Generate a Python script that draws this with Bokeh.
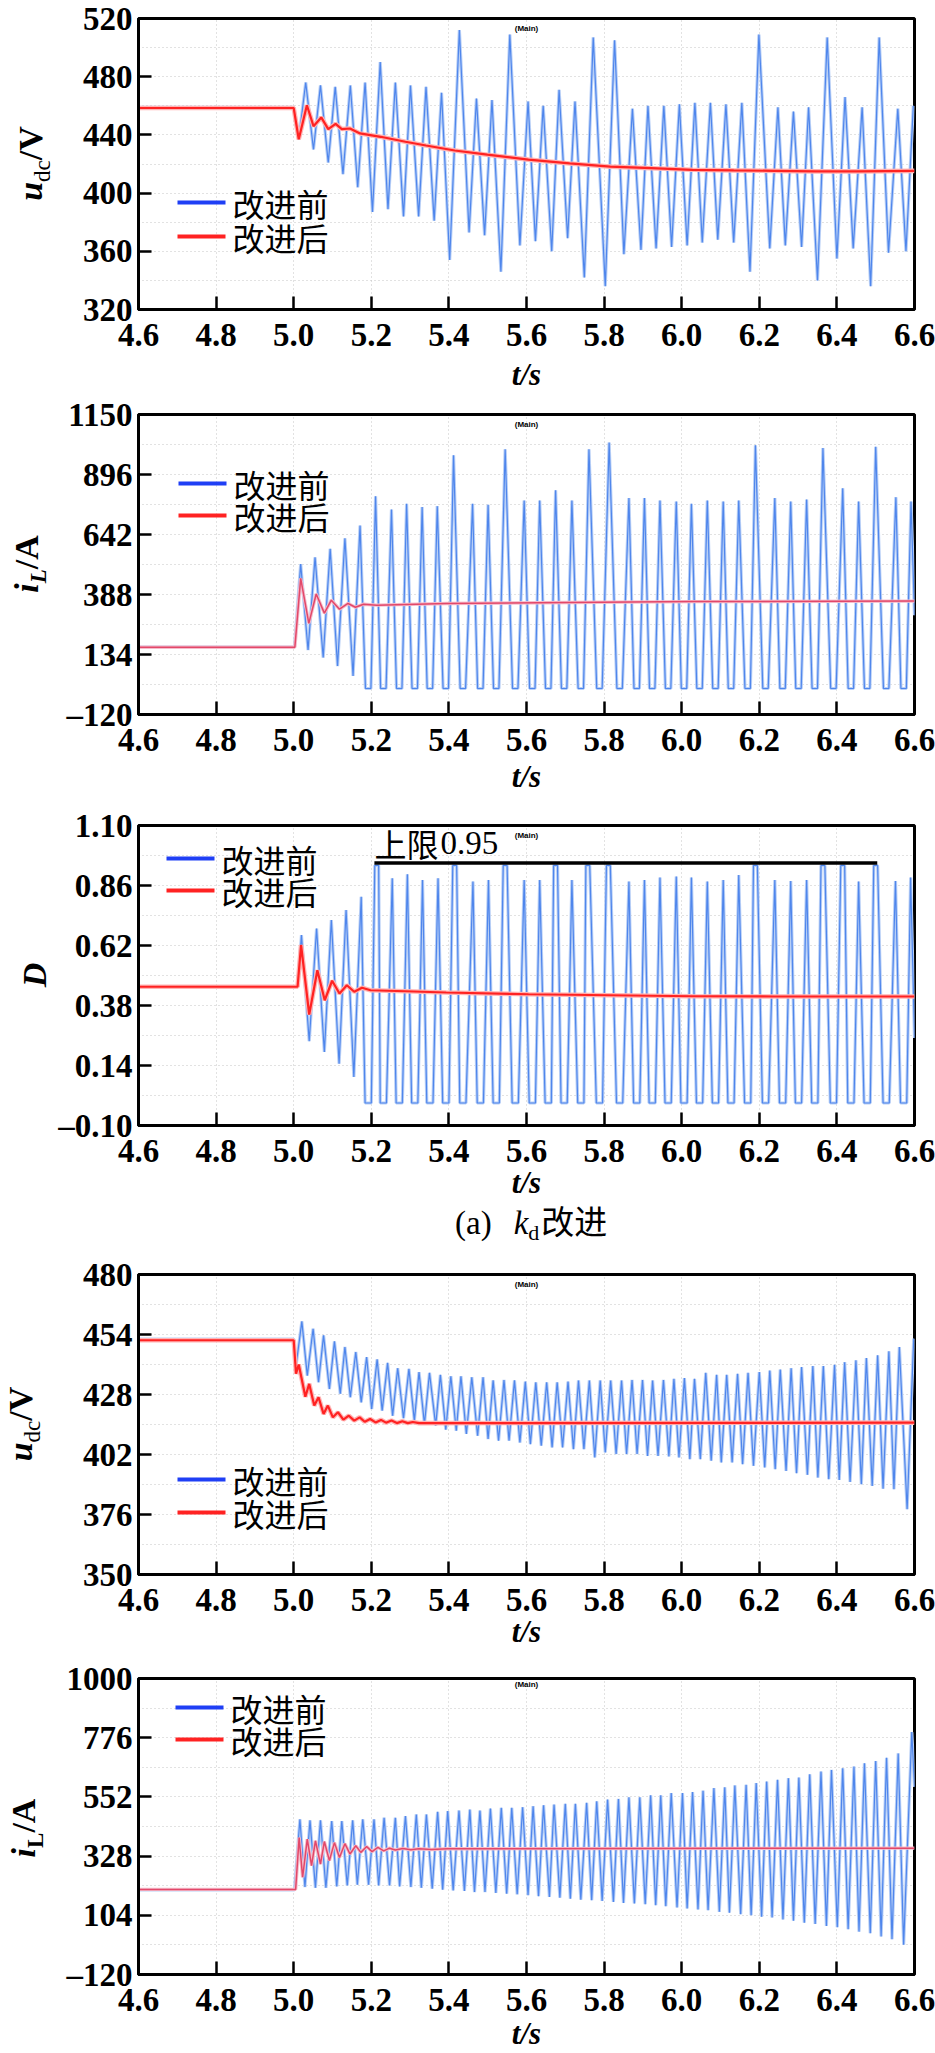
import math
from bokeh.plotting import figure
from bokeh.models import Range1d, FixedTicker, Label, BoxAnnotation, CustomJSTickFormatter, Div
from bokeh.layouts import column, row
from bokeh.embed import file_html
from bokeh.resources import INLINE

# ------------------------------------------------------------------ shared
x_ticks = [4.6, 4.8, 5.0, 5.2, 5.4, 5.6, 5.8, 6.0, 6.2, 6.4, 6.6]
x_tick_labels = ["4.6", "4.8", "5.0", "5.2", "5.4", "5.6", "5.8", "6.0", "6.2", "6.4", "6.6"]
t_begin, t_end = 4.6, 6.6
legend_labels = ["改进前", "改进后"]
x_title_text = "t/s"

# ------------------------------------------------------------------ panel 1 : u_dc (kd)
udc1_ticks = [320, 360, 400, 440, 480, 520]
udc1_tick_labels = ["320", "360", "400", "440", "480", "520"]
udc1_before_pre = 459.0
udc1_before_peak_t = [5.031, 5.069, 5.107, 5.146, 5.184, 5.223, 5.262, 5.301, 5.341, 5.381,
                      5.427, 5.471, 5.511, 5.557, 5.604, 5.643, 5.684, 5.725, 5.772, 5.827,
                      5.873, 5.913, 5.954, 5.994, 6.034, 6.074, 6.114, 6.155, 6.199, 6.248,
                      6.288, 6.327, 6.375, 6.421, 6.465, 6.509, 6.557, 6.597]
udc1_before_peak_v = [476, 474, 473, 474, 476, 490, 476, 474, 473, 469,
                      512, 465, 464, 509, 463, 460, 471, 463, 507, 505,
                      458, 460, 460, 461, 462, 462, 461, 462, 509, 459,
                      456, 459, 507, 466, 459, 507, 458, 460]
udc1_before_trough_t = [5.013, 5.051, 5.089, 5.127, 5.165, 5.203, 5.243, 5.283, 5.322, 5.362,
                        5.402, 5.452, 5.492, 5.534, 5.583, 5.623, 5.665, 5.706, 5.749, 5.803,
                        5.851, 5.895, 5.934, 5.974, 6.014, 6.053, 6.093, 6.134, 6.176, 6.227,
                        6.267, 6.309, 6.350, 6.400, 6.442, 6.487, 6.533, 6.578]
udc1_before_trough_v = [437, 430, 421, 413, 404, 387, 389, 384, 384, 381,
                        354, 373, 371, 346, 364, 367, 360, 369, 342, 336,
                        358, 361, 362, 363, 364, 366, 368, 366, 346, 362,
                        364, 363, 340, 355, 362, 336, 359, 360]
udc1_after_t = [4.6, 5.0, 5.013, 5.034, 5.051, 5.071, 5.089, 5.108, 5.124, 5.145, 5.171,
                5.224, 5.288, 5.341, 5.415, 5.499, 5.605, 5.711, 5.816, 5.922, 6.028,
                6.134, 6.239, 6.345, 6.451, 6.6]
udc1_after_v = [458.5, 458.5, 437, 460.4, 446, 452, 444, 447.6, 444, 444.4, 441,
                438.7, 435.3, 432.7, 429.3, 426.4, 423, 420.4, 418.2, 417.1, 416,
                415.6, 415.3, 414.9, 414.9, 415.3]

# ------------------------------------------------------------------ panel 2 : i_L (kd)
il1_ticks = [-120, 134, 388, 642, 896, 1150]
il1_tick_labels = ["\u2013120", "134", "388", "642", "896", "1150"]
il1_before_pre = 165
il1_before_peak_t = [5.018, 5.055, 5.094, 5.132, 5.171, 5.211, 5.252, 5.291, 5.331, 5.370,
                     5.412, 5.461, 5.501, 5.545, 5.594, 5.634, 5.675, 5.717, 5.761, 5.813,
                     5.864, 5.904, 5.944, 5.986, 6.025, 6.066, 6.107, 6.147, 6.190, 6.240,
                     6.281, 6.322, 6.364, 6.415, 6.456, 6.500, 6.552, 6.591]
il1_before_peak_v = [517, 545, 581, 626, 680, 804, 748, 772, 758, 762,
                     977, 772, 768, 1003, 786, 786, 829, 786, 1003, 1031,
                     796, 796, 786, 782, 772, 786, 782, 786, 1020, 796,
                     782, 790, 1008, 838, 782, 1013, 800, 782]
il1_before_trough_t = [5.037, 5.076, 5.113, 5.153]
il1_before_trough_v = [153, 121, 85, 43]
kd_floor_t = [5.192, 5.231, 5.272, 5.312, 5.351, 5.392, 5.436, 5.481, 5.522, 5.571,
              5.615, 5.656, 5.697, 5.740, 5.788, 5.840, 5.884, 5.924, 5.965, 6.006,
              6.046, 6.087, 6.127, 6.170, 6.216, 6.260, 6.301, 6.343, 6.391, 6.436,
              6.478, 6.527, 6.572]
il1_floor_v = -10
il1_floor_dwell = 0.014
il1_before_end = (6.6, 300)
il1_after_t = [4.6, 5.003, 5.018, 5.039, 5.058, 5.079, 5.097, 5.118, 5.140, 5.159, 5.180,
               5.214, 5.393, 5.711, 6.028, 6.6]
il1_after_v = [165, 165, 456, 266, 390, 309, 364, 326, 350, 334, 347,
               343, 350, 354, 358, 360]

# ------------------------------------------------------------------ panel 3 : D (kd)
d_ticks = [-0.10, 0.14, 0.38, 0.62, 0.86, 1.10]
d_tick_labels = ["\u20130.10", "0.14", "0.38", "0.62", "0.86", "1.10"]
d_before_pre = 0.455
d_before_peak_t = [5.020, 5.059, 5.097, 5.135, 5.174, 5.214, 5.254, 5.293, 5.332, 5.372,
                   5.415, 5.462, 5.502, 5.545, 5.594, 5.634, 5.675, 5.717, 5.758, 5.811,
                   5.864, 5.904, 5.944, 5.986, 6.025, 6.066, 6.107, 6.147, 6.190, 6.240,
                   6.281, 6.322, 6.364, 6.415, 6.456, 6.500, 6.551, 6.590]
d_before_peak_v = [0.662, 0.688, 0.722, 0.762, 0.815, 0.94, 0.889, 0.905, 0.882, 0.889,
                   0.94, 0.876, 0.882, 0.94, 0.882, 0.882, 0.94, 0.882, 0.94, 0.94,
                   0.876, 0.882, 0.892, 0.896, 0.892, 0.876, 0.882, 0.902, 0.94, 0.882,
                   0.878, 0.882, 0.94, 0.94, 0.876, 0.94, 0.878, 0.892]
d_before_trough_t = [5.040, 5.079, 5.117, 5.155]
d_before_trough_v = [0.237, 0.194, 0.147, 0.094]
d_floor_v = -0.01
d_floor_dwell = 0.016
d_cap_v = 0.94
d_cap_dwell = 0.010
d_before_end = (6.6, 0.25)
d_after_t = [4.6, 5.010, 5.019, 5.040, 5.061, 5.080, 5.099, 5.118, 5.137, 5.156, 5.176,
             5.198, 5.288, 5.393, 5.605, 5.816, 6.028, 6.239, 6.6]
d_after_v = [0.455, 0.455, 0.622, 0.344, 0.521, 0.401, 0.479, 0.428, 0.461, 0.435, 0.451,
             0.441, 0.437, 0.432, 0.425, 0.421, 0.417, 0.416, 0.416]
d_limit_value = 0.95
d_limit_span = [5.208, 6.504]
d_limit_text = ("上限", "0.95")
d_limit_text_y = 1.032

# ------------------------------------------------------------------ panel 4 : u_dc (second case)
udc2_ticks = [350, 376, 402, 428, 454, 480]
udc2_tick_labels = ["350", "376", "402", "428", "454", "480"]
udc2_before_pre = 452.0
udc2_before_peak_t = [5.021, 5.050, 5.077, 5.105, 5.132, 5.160, 5.188, 5.215, 5.242, 5.268,
                      5.297, 5.323, 5.350, 5.378, 5.405, 5.431, 5.459, 5.488, 5.514, 5.542,
                      5.569, 5.597, 5.624, 5.652, 5.679, 5.707, 5.734, 5.762, 5.790, 5.817,
                      5.845, 5.872, 5.899, 5.925, 5.953, 5.980, 6.007, 6.033, 6.062, 6.090,
                      6.116, 6.144, 6.171, 6.200, 6.227, 6.254, 6.282, 6.309, 6.338, 6.365,
                      6.394, 6.420, 6.449, 6.476, 6.505, 6.534, 6.561, 6.598]
udc2_before_peak_v = [459.7, 456.5, 453.6, 451.0, 448.6, 446.4, 444.2, 443.2, 441.7, 439.4,
                      439.1, 437.7, 437.4, 436.5, 435.9, 435.9, 435.5, 435.5, 434.1, 434.3,
                      434.1, 433.6, 433.3, 433.3, 433.3, 433.6, 434.1, 434.1, 434.1, 434.1,
                      434.1, 434.3, 434.3, 434.1, 434.3, 434.8, 435.1, 434.8, 437.4, 436.5,
                      436.5, 437.0, 437.4, 437.7, 438.4, 438.8, 439.4, 439.9, 440.3, 440.3,
                      440.9, 442.0, 442.8, 443.8, 445.0, 446.7, 448.6, 452.2]
udc2_before_trough_t = [5.005, 5.035, 5.064, 5.092, 5.120, 5.146, 5.174, 5.201, 5.228, 5.255,
                        5.283, 5.311, 5.337, 5.366, 5.392, 5.419, 5.445, 5.474, 5.501, 5.528,
                        5.555, 5.583, 5.610, 5.638, 5.666, 5.693, 5.721, 5.748, 5.776, 5.803,
                        5.831, 5.858, 5.885, 5.912, 5.939, 5.967, 5.993, 6.021, 6.048, 6.076,
                        6.102, 6.130, 6.157, 6.185, 6.214, 6.241, 6.269, 6.296, 6.324, 6.351,
                        6.379, 6.406, 6.434, 6.463, 6.491, 6.519, 6.547, 6.581]
udc2_before_trough_v = [439.1, 436.2, 433.3, 430.4, 428.3, 426.8, 424.6, 421.7, 421.0, 418.8,
                        417.7, 416.7, 415.2, 414.5, 412.8, 412.3, 410.9, 410.1, 408.7, 408.0,
                        408.0, 407.2, 406.5, 405.8, 405.1, 405.1, 404.3, 404.3, 400.7, 402.9,
                        402.2, 402.2, 402.2, 401.4, 401.4, 401.2, 400.7, 400.0, 400.0, 399.3,
                        398.6, 398.6, 397.8, 397.1, 396.4, 395.6, 394.9, 393.9, 393.2, 392.0,
                        391.3, 391.0, 390.1, 389.1, 388.4, 387.2, 387.0, 378.3]
udc2_after_t = [4.6, 5.0, 5.006, 5.013, 5.030, 5.040, 5.053, 5.064, 5.077, 5.088,
                5.101, 5.114, 5.128, 5.142, 5.156, 5.170, 5.183, 5.197, 5.211, 5.225,
                5.238, 5.252, 5.266, 5.280, 5.294, 5.307, 5.323, 6.6]
udc2_after_v = [451.5, 451.5, 437, 441, 427, 432.6, 423.2, 426.8, 419.6, 423.2,
                418.1, 420.3, 417.1, 418.8, 416.7, 418.1, 416.2, 417.4, 415.9, 417.0,
                415.8, 416.7, 415.6, 416.4, 415.6, 416.1, 415.6, 415.8]

# ------------------------------------------------------------------ panel 5 : i_L (second case)
il2_ticks = [-120, 104, 328, 552, 776, 1000]
il2_tick_labels = ["\u2013120", "104", "328", "552", "776", "1000"]
il2_before_pre = 200
il2_before_peak_t = [5.016, 5.042, 5.069, 5.098, 5.124, 5.152, 5.178, 5.207, 5.233, 5.262,
                     5.288, 5.316, 5.342, 5.371, 5.397, 5.426, 5.454, 5.480, 5.507, 5.535,
                     5.562, 5.590, 5.617, 5.644, 5.671, 5.700, 5.726, 5.755, 5.781, 5.809,
                     5.837, 5.864, 5.892, 5.920, 5.946, 5.973, 6.002, 6.028, 6.055, 6.083,
                     6.111, 6.137, 6.166, 6.192, 6.219, 6.247, 6.275, 6.302, 6.330, 6.359,
                     6.386, 6.415, 6.444, 6.471, 6.500, 6.528, 6.558, 6.593]
il2_before_peak_v = [467.2, 463.1, 463.1, 460.6, 460.6, 463.1, 467.2, 467.2, 473.1, 473.1,
                     479.3, 485.6, 485.6, 495.6, 498.1, 500.6, 504.3, 500.6, 508.1, 510.5,
                     510.5, 513.0, 516.8, 520.5, 523.0, 525.5, 525.5, 529.3, 535.5, 541.8,
                     544.3, 550.5, 550.5, 558.0, 558.0, 566.7, 566.7, 570.5, 575.5, 585.5,
                     588.0, 595.5, 598.0, 604.2, 610.4, 616.7, 622.9, 625.4, 637.9, 647.9,
                     654.1, 660.4, 666.6, 679.1, 687.8, 700.3, 716.6, 797.7]
il2_before_trough_t = [5.029, 5.056, 5.083, 5.111, 5.138, 5.164, 5.193, 5.219, 5.247, 5.273,
                       5.302, 5.329, 5.357, 5.384, 5.411, 5.440, 5.466, 5.493, 5.521, 5.549,
                       5.576, 5.604, 5.631, 5.659, 5.686, 5.713, 5.740, 5.768, 5.795, 5.824,
                       5.850, 5.878, 5.906, 5.933, 5.959, 5.988, 6.014, 6.042, 6.068, 6.097,
                       6.123, 6.152, 6.179, 6.206, 6.233, 6.261, 6.288, 6.316, 6.344, 6.373,
                       6.401, 6.429, 6.457, 6.486, 6.514, 6.542, 6.572]
il2_before_trough_v = [211, 208, 208, 213, 217, 219.6, 219.6, 217, 217, 213,
                       211, 208, 204.6, 201, 198.4, 196, 192, 192, 188.4, 186,
                       183.4, 180, 176, 173.4, 171, 167.2, 163.4, 161, 158.5, 154.7,
                       151, 148.5, 146, 142.2, 138.5, 133.5, 129.7, 126, 123.5, 117.2,
                       113.5, 108.5, 104.7, 98.5, 96, 88.5, 83.5, 76, 71, 63.6,
                       58.6, 51, 42.3, 36, 23.6, 13.6, -7.6]
il2_before_end = (6.6, 590)
il2_after_t = [4.6, 5.005, 5.014, 5.023, 5.035, 5.046, 5.056, 5.069, 5.079, 5.092,
               5.105, 5.118, 5.132, 5.145, 5.160, 5.173, 5.188, 5.202, 5.217, 5.232,
               5.247, 5.262, 5.281, 5.302, 5.323, 5.355, 5.397, 5.482, 6.6]
il2_after_v = [202, 202, 398, 248, 392, 292, 386, 298, 383, 311,
               379, 323, 375, 336, 367, 342, 364, 345, 361, 348,
               358, 351, 357, 352, 356, 353, 356, 356, 358]

# ------------------------------------------------------------------ styling
BLUE_CORE = "#4f86ec"
BLUE_HALO = "#b8cff6"
BLUE_LEG = "#1f3ff5"
RED = "#ff2222"
RED_HALO = "#ffb4b4"
RED_THIN = "#e2486a"
RED_THIN_HALO = "#f5bccb"
SERIF = "Liberation Serif"
CJK = "Noto Sans CJK SC"
DIV_W = 50
FIG_W = 935 - DIV_W


def wave(pre, start, peak_t, peak_v, trough_t, trough_v, flat_t=(), floor=None,
         dwell=0.0, cap=None, cap_dwell=0.0, end=None):
    pts = [(t_begin, pre), (start, pre)]
    for t, v in zip(peak_t, peak_v):
        if cap is not None and v >= cap:
            pts += [(t - cap_dwell / 2, v), (t + cap_dwell / 2, v)]
        else:
            pts.append((t, v))
    pts += list(zip(trough_t, trough_v))
    for c in flat_t:
        pts += [(c - dwell / 2, floor), (c + dwell / 2, floor)]
    if end is not None:
        pts.append(end)
    pts.sort(key=lambda q: q[0])
    return [q[0] for q in pts], [q[1] for q in pts]


def tick_formatter(vals, labels):
    return CustomJSTickFormatter(args=dict(vals=list(vals), labels=list(labels)), code="""
        let best = 0;
        for (let i = 0; i < vals.length; i++) {
            if (Math.abs(vals[i] - tick) < Math.abs(vals[best] - tick)) best = i;
        }
        return labels[best];
    """)


def add_text(p, x, y, text, size, font=SERIF, style="normal", align="left",
             baseline="middle", units="screen", x_offset=0):
    p.add_layout(Label(x=x, y=y, x_units=units, y_units=units, text=text, text_font=font,
                       text_font_size=f"{size}px", text_font_style=style,
                       text_align=align, text_baseline=baseline, text_color="black",
                       x_offset=x_offset))


def make_fig(yticks, ylabels, top, frame_h, bottom, xlabel_standoff):
    ylo, yhi = yticks[0], yticks[-1]
    p = figure(width=FIG_W, height=top + frame_h + bottom, title=None,
               x_range=Range1d(t_begin, t_end), y_range=Range1d(ylo, yhi),
               output_backend="svg", toolbar_location=None,
               min_border_left=138 - DIV_W, min_border_right=21,
               min_border_top=top, min_border_bottom=bottom)
    p.background_fill_color = "white"
    p.border_fill_color = "white"
    p.outline_line_color = "black"
    p.outline_line_width = 3
    p.outline_line_alpha = 1.0
    p.xaxis.ticker = FixedTicker(ticks=x_ticks)
    p.xaxis.formatter = tick_formatter(x_ticks, x_tick_labels)
    p.yaxis.ticker = FixedTicker(ticks=yticks)
    p.yaxis.formatter = tick_formatter(yticks, ylabels)
    for ax in (p.xaxis[0], p.yaxis[0]):
        ax.axis_line_color = "black"
        ax.axis_line_width = 3
        ax.major_tick_in = 13
        ax.major_tick_out = 0
        ax.major_tick_line_width = 2.5
        ax.major_tick_line_color = "black"
        ax.minor_tick_line_color = None
        ax.major_label_text_font = SERIF
        ax.major_label_text_font_size = "33px"
        ax.major_label_text_font_style = "bold"
        ax.major_label_text_color = "black"
    p.yaxis.major_label_standoff = 6
    p.xaxis.major_label_standoff = 14
    p.xaxis.axis_label = x_title_text
    p.xaxis.axis_label_text_font = SERIF
    p.xaxis.axis_label_text_font_size = "31px"
    p.xaxis.axis_label_text_font_style = "bold italic"
    p.xaxis.axis_label_text_color = "black"
    p.xaxis.axis_label_standoff = xlabel_standoff
    half = [(a + b) / 2 for a, b in zip(yticks[:-1], yticks[1:])]
    p.ygrid.ticker = FixedTicker(ticks=sorted(half + list(yticks[1:-1])))
    p.xgrid.ticker = FixedTicker(ticks=x_ticks[1:-1])
    p.grid.grid_line_color = "#c4c4c4"
    p.grid.grid_line_dash = "1 3"
    p.grid.grid_line_width = 1
    add_text(p, 388, frame_h - 10, "(Main)", 8, font="Liberation Sans", style="bold",
             align="center")
    return p


def ydiv(html, a, b, frame_h, height):
    inner = ('<div style="width:%dpx;height:30px;margin:0;padding:0;'
             'transform-origin:0 0;transform:translate(%dpx,%dpx) rotate(-90deg);'
             'text-align:center;white-space:nowrap;font-family:\'Liberation Serif\';'
             'font-size:34px;line-height:30px;color:black">%s</div>') % (frame_h, a, b, html)
    return Div(text=inner, width=DIV_W, height=height, margin=0)


def legend(p, x0, rows, colors):
    for lab, col, y in zip(legend_labels, colors, rows):
        p.add_layout(BoxAnnotation(left=x0, right=x0 + 48, bottom=y - 2, top=y + 2,
                                   left_units="screen", right_units="screen",
                                   top_units="screen", bottom_units="screen",
                                   fill_color=col, fill_alpha=1.0, line_color=None))
        add_text(p, x0 + 55, y, lab, 32, font=CJK)


def draw_blue(p, xs, ys):
    p.line(xs, ys, line_color=BLUE_HALO, line_width=3.2)
    p.line(xs, ys, line_color=BLUE_CORE, line_width=1.2)


def draw_red(p, xs, ys, thin=False):
    if thin:
        p.line(xs, ys, line_color=RED_THIN_HALO, line_width=3.4)
        p.line(xs, ys, line_color=RED_THIN, line_width=1.5)
    else:
        p.line(xs, ys, line_color=RED_HALO, line_width=4.6)
        p.line(xs, ys, line_color=RED, line_width=2.2)


SUB = '<span style="font-size:23px;position:relative;top:8px">%s</span>'
UDC_HTML = '<b><i>u</i></b>' + SUB % 'dc' + '<b>/V</b>'

# ------------------------------------------------------------------ figure 1  (0 - 394)
p1 = make_fig(udc1_ticks, udc1_tick_labels, 18, 291, 85, 8)
draw_blue(p1, *wave(udc1_before_pre, 5.0, udc1_before_peak_t, udc1_before_peak_v,
                    udc1_before_trough_t, udc1_before_trough_v))
draw_red(p1, udc1_after_t, udc1_after_v)
legend(p1, 39, [107, 73], [BLUE_LEG, RED])
r1 = row(ydiv(UDC_HTML, 16, 309, 291, 394), p1, spacing=0)

# ------------------------------------------------------------------ figure 2  (394 - 805)
p2 = make_fig(il1_ticks, il1_tick_labels, 20, 300, 91, 5)
draw_blue(p2, *wave(il1_before_pre, 5.002, il1_before_peak_t, il1_before_peak_v,
                    il1_before_trough_t, il1_before_trough_v, flat_t=kd_floor_t,
                    floor=il1_floor_v, dwell=il1_floor_dwell, end=il1_before_end))
draw_red(p2, il1_after_t, il1_after_v, thin=True)
legend(p2, 40, [231, 199], [BLUE_LEG, RED])
r2 = row(ydiv('<b><i>i</i></b>' + SUB % '<b><i>L</i></b>' + '<b>/A</b>', 12, 320, 300, 411),
         p2, spacing=0)

# ------------------------------------------------------------------ figure 3  (805 - 1210)
p3 = make_fig(d_ticks, d_tick_labels, 20, 300, 85, 0)
draw_blue(p3, *wave(d_before_pre, 5.010, d_before_peak_t, d_before_peak_v,
                    d_before_trough_t, d_before_trough_v, flat_t=kd_floor_t,
                    floor=d_floor_v, dwell=d_floor_dwell, cap=d_cap_v, cap_dwell=d_cap_dwell,
                    end=d_before_end))
draw_red(p3, d_after_t, d_after_v)
p3.line(d_limit_span, [d_limit_value, d_limit_value], line_color="black", line_width=3.5)
add_text(p3, d_limit_span[0], d_limit_text_y, d_limit_text[0], 32, font=CJK, units="data")
add_text(p3, d_limit_span[0], d_limit_text_y, d_limit_text[1], 33, units="data", x_offset=66)
legend(p3, 28, [267, 235], [BLUE_LEG, RED])
r3 = row(ydiv('<b><i>D</i></b>', 20, 320, 300, 405), p3, spacing=0)

# caption  (1210 - 1254)
caption = Div(text=('<div style="margin:0;padding:0 0 0 455px;white-space:nowrap;'
                    'font-family:\'Liberation Serif\';font-size:33px;line-height:20px;color:black">'
                    '(a)<i style="margin-left:22px">k</i>'
                    '<span style="font-size:22px;position:relative;top:6px">d</span>'
                    '<span style="font-family:\'Noto Sans CJK SC\';margin-left:2px">改进</span></div>'),
              width=935, height=44, margin=0)

# ------------------------------------------------------------------ figure 4  (1254 - 1658)
p4 = make_fig(udc2_ticks, udc2_tick_labels, 20, 300, 84, 0)
draw_blue(p4, *wave(udc2_before_pre, 5.0, udc2_before_peak_t, udc2_before_peak_v,
                    udc2_before_trough_t, udc2_before_trough_v))
draw_red(p4, udc2_after_t, udc2_after_v)
legend(p4, 39, [95, 62], [BLUE_LEG, RED])
r4 = row(ydiv(UDC_HTML, 6, 320, 300, 404), p4, spacing=0)

# ------------------------------------------------------------------ figure 5  (1658 - 2053)
p5 = make_fig(il2_ticks, il2_tick_labels, 20, 300, 75, 2)
draw_blue(p5, *wave(il2_before_pre, 5.002, il2_before_peak_t, il2_before_peak_v,
                    il2_before_trough_t, il2_before_trough_v, end=il2_before_end))
draw_red(p5, il2_after_t, il2_after_v, thin=True)
legend(p5, 37, [267, 235], [BLUE_LEG, RED])
r5 = row(ydiv('<b><i>i</i></b>' + SUB % '<b>L</b>' + '<b>/A</b>', 9, 320, 300, 395),
         p5, spacing=0)

layout = column(r1, r2, r3, caption, r4, r5, spacing=0)
open("out.html", "w").write(file_html(layout, INLINE))
